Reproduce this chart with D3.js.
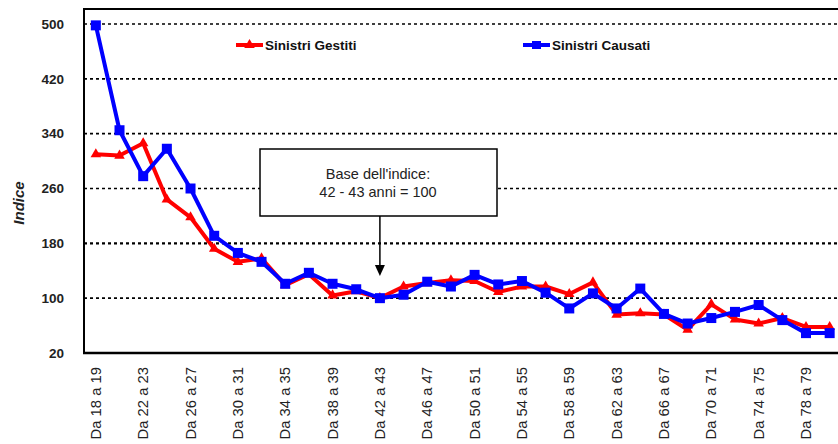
<!DOCTYPE html>
<html><head><meta charset="utf-8">
<script src="https://cdn.jsdelivr.net/npm/d3@7/dist/d3.min.js"></script>
<style>
html,body{margin:0;padding:0;background:#fff;overflow:hidden;}
text{font-family:"Liberation Sans",Arial,sans-serif;}
</style></head>
<body>
<svg id="c" width="838" height="444"></svg>
<script>
const categories = ["Da 18 a 19","Da 20 a 21","Da 22 a 23","Da 24 a 25","Da 26 a 27","Da 28 a 29","Da 30 a 31","Da 32 a 33","Da 34 a 35","Da 36 a 37","Da 38 a 39","Da 40 a 41","Da 42 a 43","Da 44 a 45","Da 46 a 47","Da 48 a 49","Da 50 a 51","Da 52 a 53","Da 54 a 55","Da 56 a 57","Da 58 a 59","Da 60 a 61","Da 62 a 63","Da 64 a 65","Da 66 a 67","Da 68 a 69","Da 70 a 71","Da 72 a 73","Da 74 a 75","Da 76 a 77","Da 78 a 79","Da 80 a 81"];
const sinistriGestiti = [310,308,326,244,218,172,153,158,119,135,104,110,100,117,122,126,125,109,117,117,106,123,76,78,76,54,91,69,63,71,58,58];
const sinistriCausati = [498,345,278,318,260,191,166,153,121,137,121,113,100,105,124,117,134,120,125,108,85,107,85,114,77,63,71,80,90,68,49,49];
const yTicks = [20,100,180,260,340,420,500];
const seriesNames = ["Sinistri Gestiti","Sinistri Causati"];
const annotationLines = ["Base dell'indice:","42 - 43 anni = 100"];
const yTitle = "Indice";

(function(){
const svg = d3.select("#c");
const pL = 84, pT = 9, pB = 353, pR = 841.5;
const x = d3.scaleBand().domain(categories).range([pL, pR]).paddingInner(0).paddingOuter(0);
const cx = d => x(d) + x.bandwidth()/2;
const y = d3.scaleLinear().domain([20,500]).range([pB, 24]);

// gridlines
svg.append("g").selectAll("line").data(yTicks.filter(t=>t!==20)).join("line")
  .attr("x1", pL).attr("x2", 838).attr("y1", d=>y(d)).attr("y2", d=>y(d))
  .attr("stroke","#000").attr("stroke-width", d=> d===180?2.2:1.6).attr("stroke-dasharray","3,3");

// frame
svg.append("line").attr("x1",pL).attr("x2",838).attr("y1",pT).attr("y2",pT).attr("stroke","#000").attr("stroke-width",2);
svg.append("line").attr("x1",pL).attr("x2",pL).attr("y1",pT-1).attr("y2",pB+1).attr("stroke","#000").attr("stroke-width",2);
svg.append("line").attr("x1",pL-1).attr("x2",838).attr("y1",pB).attr("y2",pB).attr("stroke","#000").attr("stroke-width",2.5);

// y axis labels
const yAxis = d3.axisLeft(y).tickValues(yTicks).tickSize(0).tickPadding(20);
const ga = svg.append("g").attr("transform",`translate(${pL},0)`).call(yAxis);
ga.select(".domain").remove();
ga.selectAll("text").attr("font-size",13.5).attr("font-weight","bold").attr("fill","#222").attr("font-family","Liberation Sans, Arial, sans-serif");

svg.append("text").attr("transform","translate(24,203) rotate(-90)").attr("text-anchor","middle")
  .attr("font-size",15).attr("font-weight","bold").attr("font-style","italic").attr("fill","#222").text(yTitle);

// x labels
const xAxis = d3.axisBottom(x).tickValues(categories.filter((c,i)=>i%2===0&&i<31)).tickSize(0);
const gx = svg.append("g").attr("transform",`translate(0,${pB})`).call(xAxis);
gx.select(".domain").remove();
gx.selectAll("text").attr("font-size",14.8).attr("fill","#222").attr("font-family","Liberation Sans, Arial, sans-serif")
  .attr("text-anchor","end").attr("transform","translate(0,14) rotate(-90)").attr("x",0).attr("y",0).attr("dy","0.35em");

// lines
const line = d3.line().x((d,i)=>cx(categories[i])).y(d=>y(d));
svg.append("path").datum(sinistriGestiti).attr("d",line).attr("fill","none").attr("stroke","#ff0000").attr("stroke-width",4).attr("stroke-linejoin","round");
const tri = d3.symbol().type(d3.symbolTriangle).size(48);
svg.append("g").selectAll("path").data(sinistriGestiti).join("path")
  .attr("d",tri).attr("transform",(d,i)=>`translate(${cx(categories[i])},${y(d)})`).attr("fill","#ff0000");
svg.append("path").datum(sinistriCausati).attr("d",line).attr("fill","none").attr("stroke","#0000ff").attr("stroke-width",4).attr("stroke-linejoin","round");
svg.append("g").selectAll("rect").data(sinistriCausati).join("rect")
  .attr("x",(d,i)=>cx(categories[i])-5).attr("y",d=>y(d)-5).attr("width",10).attr("height",10).attr("fill","#0000ff");

// legend
const leg = [{name:seriesNames[0],color:"#ff0000",x:236},{name:seriesNames[1],color:"#0000ff",x:523}];
leg.forEach((l,i)=>{
  const g = svg.append("g");
  g.append("line").attr("x1",l.x).attr("x2",l.x+27).attr("y1",45).attr("y2",45).attr("stroke",l.color).attr("stroke-width",4);
  if(i===0) g.append("path").attr("d",tri).attr("transform",`translate(${l.x+13.5},45)`).attr("fill",l.color);
  else g.append("rect").attr("x",l.x+9).attr("y",41).attr("width",9).attr("height",8).attr("fill",l.color);
  g.append("text").attr("x",l.x+29).attr("y",50).attr("font-size",13.5).attr("font-weight","bold").attr("fill","#111").text(l.name);
});

// annotation
const ax = cx("Da 42 a 43");
svg.append("rect").attr("x",260).attr("y",149).attr("width",237).attr("height",67).attr("fill","#fff").attr("stroke","#000").attr("stroke-width",1.5);
svg.append("text").attr("x",378).attr("y",179).attr("text-anchor","middle").attr("font-size",14.5).attr("fill","#222").text(annotationLines[0]);
svg.append("text").attr("x",378).attr("y",197).attr("text-anchor","middle").attr("font-size",14.5).attr("fill","#222").text(annotationLines[1]);
svg.append("line").attr("x1",ax).attr("x2",ax).attr("y1",216).attr("y2",268).attr("stroke","#000").attr("stroke-width",1.5);
svg.append("path").attr("d",`M${ax-5},265 L${ax+5},265 L${ax},276 Z`).attr("fill","#000");
})();
</script>
</body></html>
